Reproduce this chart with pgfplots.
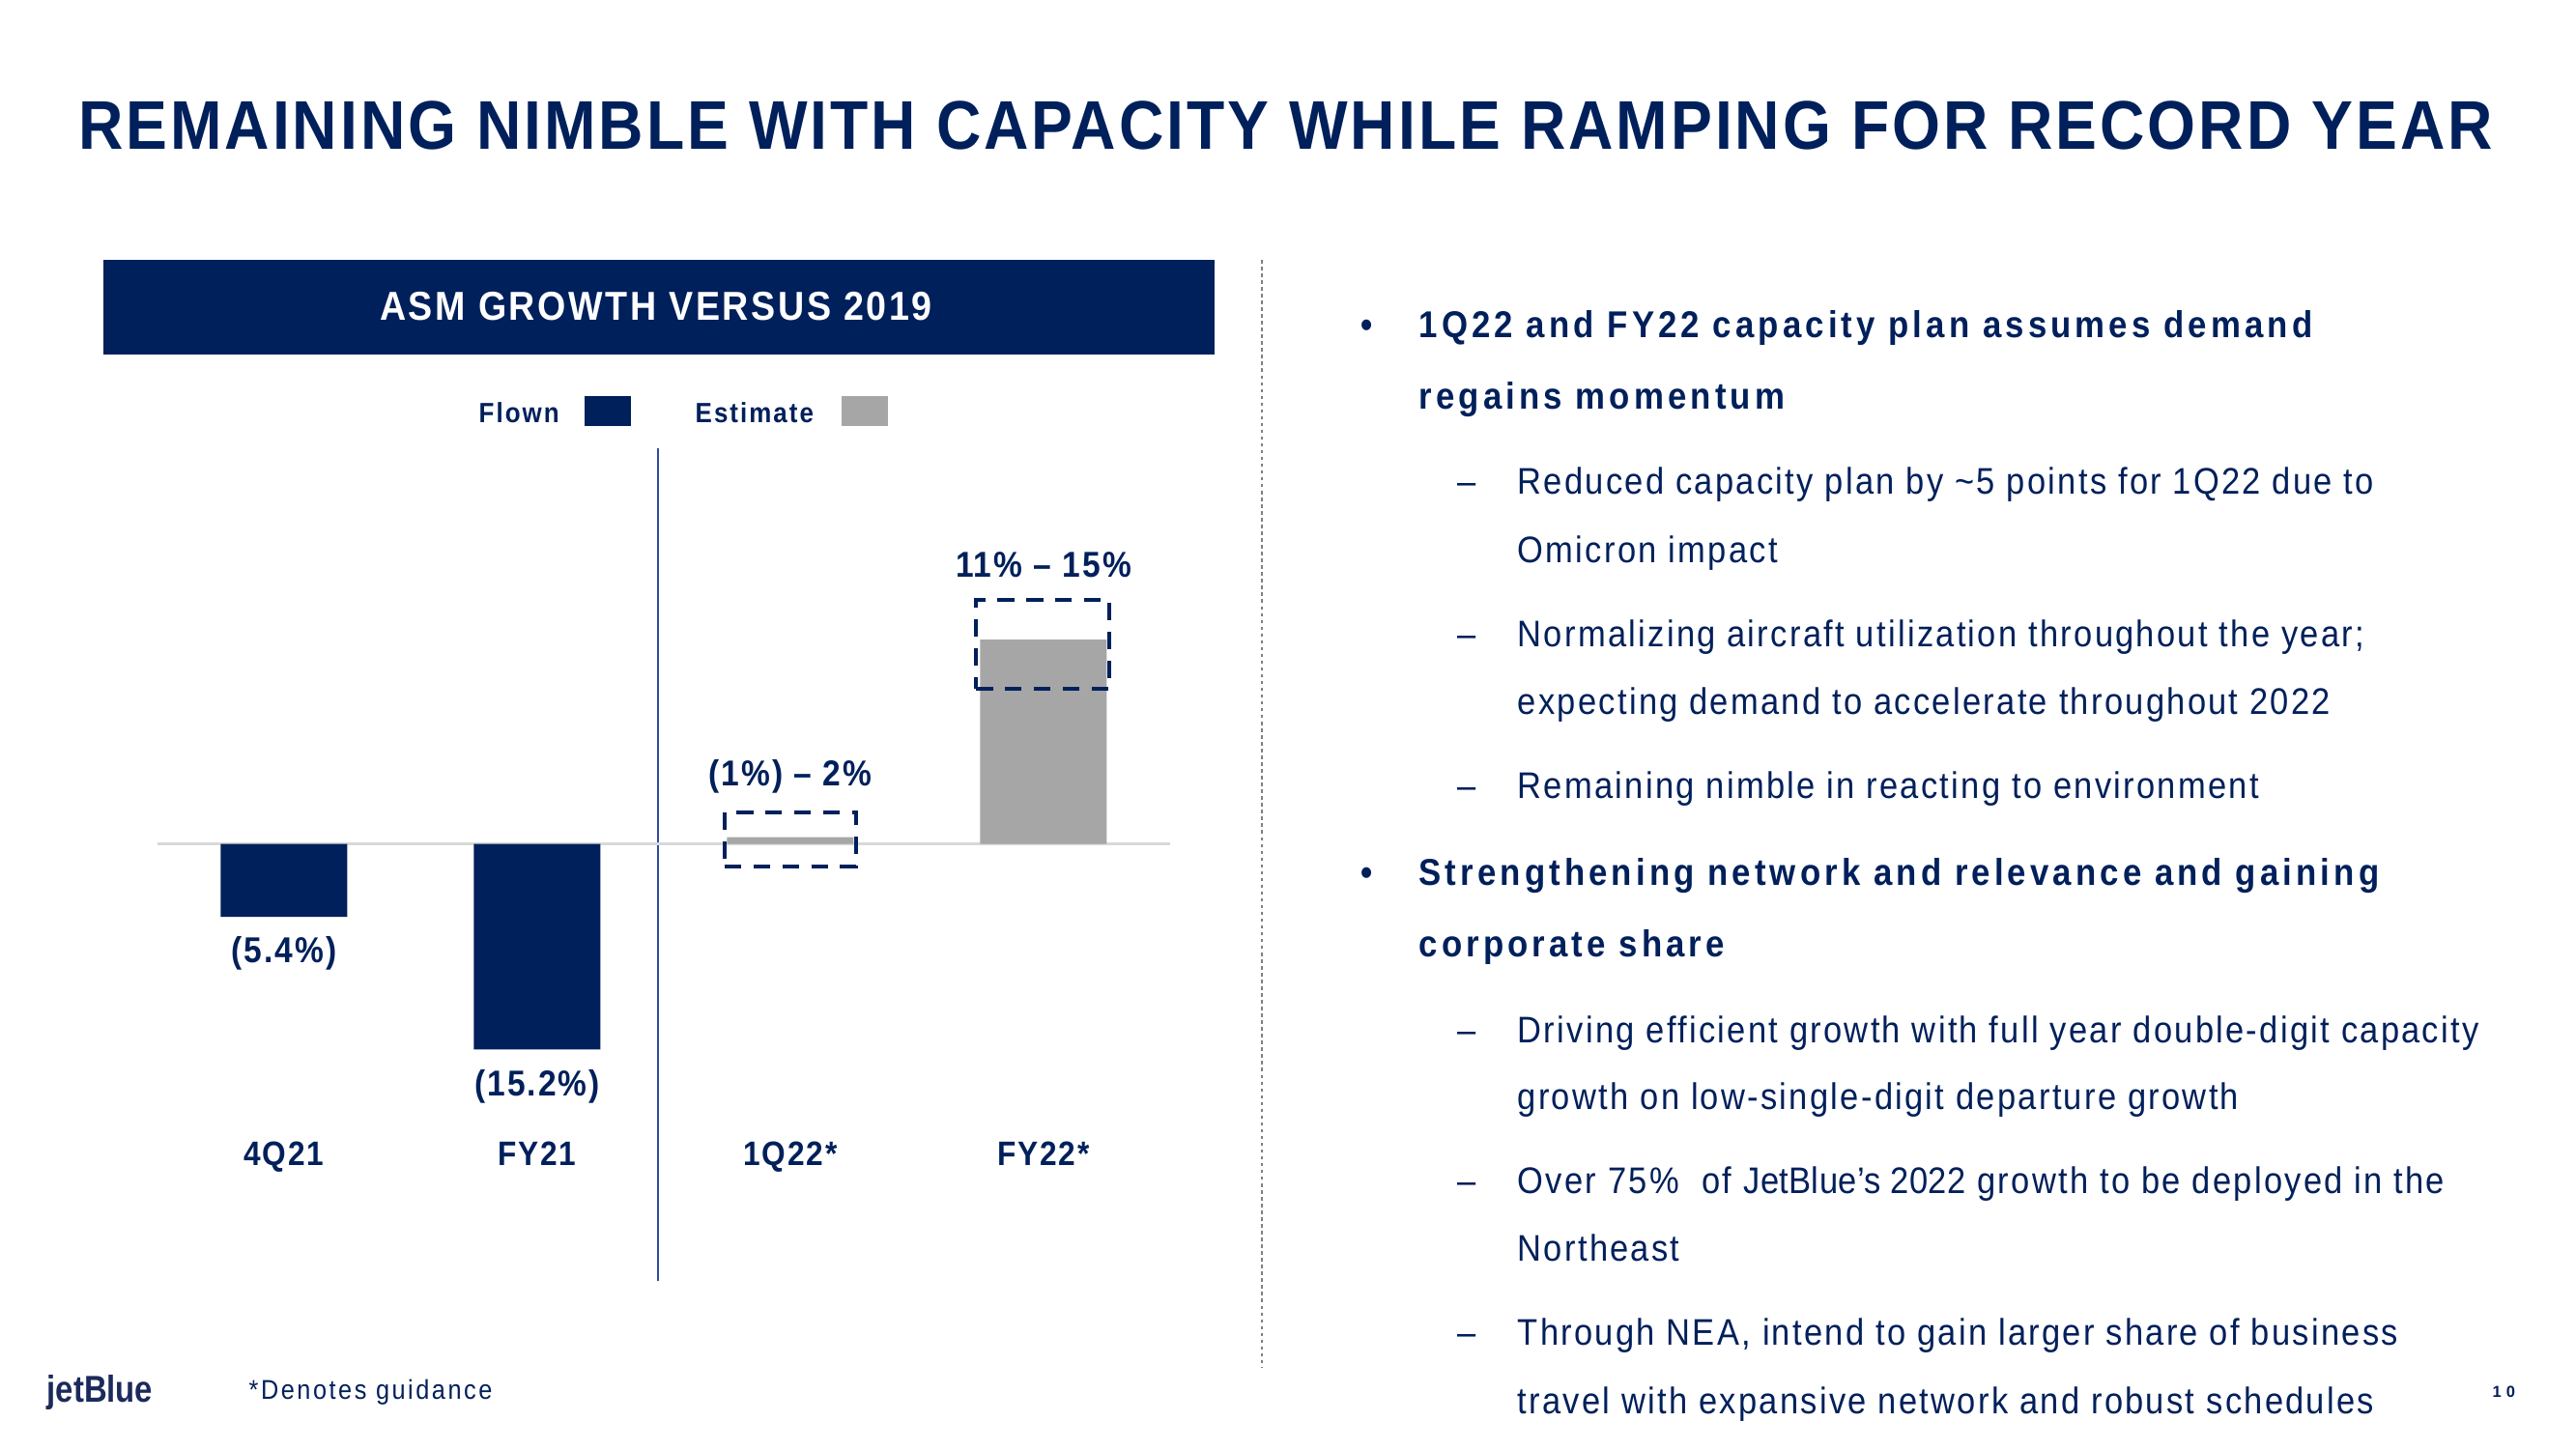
\documentclass[border=0pt]{standalone}
\usepackage{fontspec}
\setmainfont{Liberation Sans}[FakeStretch=0.9]
\newfontfamily\titlefont{Liberation Sans}[FakeStretch=0.9,LetterSpace=4.2]
\newfontfamily\bannerfont{Liberation Sans}[FakeStretch=0.9,LetterSpace=6.2]
\newfontfamily\valfont{Liberation Sans}[FakeStretch=0.9,LetterSpace=5.5]
\newfontfamily\catfont{Liberation Sans}[FakeStretch=0.9,LetterSpace=5]
\newfontfamily\legfont{Liberation Sans}[FakeStretch=0.9,LetterSpace=7]
\newfontfamily\bbodyfont{Liberation Sans}[FakeStretch=0.9,LetterSpace=10.6]
\newfontfamily\bodyfont{Liberation Sans}[FakeStretch=0.9,LetterSpace=6]
\newfontfamily\plainfont{Liberation Sans}[FakeStretch=0.9,LetterSpace=1]
\newfontfamily\notefont{Liberation Sans}[FakeStretch=0.9,LetterSpace=9]
\newfontfamily\pagefont{Liberation Sans}[LetterSpace=30]
\newfontfamily\logofont{Liberation Sans}[FakeStretch=0.85]
\usepackage{pgfplots}
\pgfplotsset{compat=1.18}
\definecolor{navy}{HTML}{00205B}
\definecolor{bargray}{HTML}{A6A6A6}
\definecolor{zerogray}{HTML}{D9D9D9}
\definecolor{sepblue}{HTML}{2F4C9E}
\definecolor{logonavy}{HTML}{1B2A5A}
\tikzset{
  bold/.style={anchor=base west, inner sep=0pt, text=navy, font=\bbodyfont\bfseries\fontsize{11}{13}\selectfont},
  sub/.style={anchor=base west, inner sep=0pt, text=navy, font=\bodyfont\fontsize{10.9}{13}\selectfont},
  val/.style={anchor=base, inner sep=0pt, text=navy, font=\valfont\bfseries\fontsize{10.6}{12}\selectfont},
  cat/.style={anchor=base, inner sep=0pt, text=navy, font=\catfont\bfseries\fontsize{10}{12}\selectfont},
}
\begin{document}
\begin{tikzpicture}
\path[use as bounding box, fill=white] (0,0) rectangle (26.66,-15);
% title
\node[anchor=base, inner sep=0pt, text=navy, font=\titlefont\bfseries\fontsize{20.3}{24}\selectfont] at (13.305,-1.54) {REMAINING NIMBLE WITH CAPACITY WHILE RAMPING FOR RECORD YEAR};
% banner
\fill[navy] (1.07,-2.69) rectangle (12.57,-3.67);
\node[anchor=base, inner sep=0pt, text=white, font=\bannerfont\bfseries\fontsize{11.9}{14}\selectfont] at (6.79,-3.31) {ASM GROWTH VERSUS 2019};
% legend
\node[anchor=base west, inner sep=0pt, text=navy, font=\legfont\bfseries\fontsize{8.2}{10}\selectfont] at (4.95,-4.37) {Flown};
\fill[navy] (6.05,-4.10) rectangle (6.53,-4.41);
\node[anchor=base west, inner sep=0pt, text=navy, font=\legfont\bfseries\fontsize{8.2}{10}\selectfont] at (7.19,-4.37) {Estimate};
\fill[bargray] (8.71,-4.10) rectangle (9.19,-4.41);
% separators
\draw[sepblue, line width=0.6pt] (6.81,-4.64) -- (6.81,-13.26);
\draw[gray, line width=0.4pt, dash pattern=on 1pt off 1pt] (13.06,-2.69) -- (13.06,-14.16);
% chart
\begin{axis}[at={(1.63cm,-12.235cm)}, anchor=south west, scale only axis,
  width=10.48cm, height=7cm, xmin=-0.5, xmax=3.5, ymin=-25, ymax=25,
  hide axis, clip=false]
\addplot[draw=zerogray, line width=1pt] coordinates {(-0.5,0) (3.5,0)};
\addplot[ybar, bar width=0.5, bar shift=0pt, fill=navy, draw=none] coordinates {(0,-5.4) (1,-15.2)};
\addplot[ybar, bar width=0.5, bar shift=0pt, fill=bargray, draw=none] coordinates {(2,0.5) (3,15.1)};
\addplot[navy, line width=1.15pt, dash pattern=on 5pt off 3.5pt] coordinates {(1.74,-1.68) (2.26,-1.68) (2.26,2.32) (1.74,2.32) (1.74,-1.68)};
\addplot[navy, line width=1.15pt, dash pattern=on 5pt off 3.5pt] coordinates {(2.733,11.46) (3.26,11.46) (3.26,18.04) (2.733,18.04) (2.733,11.46)};
\node[val] at (axis cs:0,-8.8) {(5.4\%)};
\node[val] at (axis cs:1,-18.66) {(15.2\%)};
\node[val] at (axis cs:2,4.29) {(1\%) – 2\%};
\node[val] at (axis cs:3,19.75) {11\% – 15\%};
\node[cat] at (axis cs:0,-23.8) {4Q21};
\node[cat] at (axis cs:1,-23.8) {FY21};
\node[cat] at (axis cs:2,-23.8) {1Q22*};
\node[cat] at (axis cs:3,-23.8) {FY22*};
\end{axis}
% right text
\node[bold] at (14.08,-3.496) {•};
\node[bold] at (14.68,-3.496) {1Q22 and FY22 capacity plan assumes demand};
\node[bold] at (14.68,-4.234) {regains momentum};
\node[sub] at (15.08,-5.114) {–};
\node[sub] at (15.70,-5.114) {Reduced capacity plan by \textasciitilde5 points for 1Q22 due to};
\node[sub] at (15.70,-5.82) {Omicron impact};
\node[sub] at (15.08,-6.69) {–};
\node[sub] at (15.70,-6.69) {Normalizing aircraft utilization throughout the year;};
\node[sub] at (15.70,-7.396) {expecting demand to accelerate throughout 2022};
\node[sub] at (15.08,-8.26) {–};
\node[sub] at (15.70,-8.26) {Remaining nimble in reacting to environment};
\node[bold] at (14.08,-9.16) {•};
\node[bold] at (14.68,-9.16) {Strengthening network and relevance and gaining};
\node[bold] at (14.68,-9.90) {corporate share};
\node[sub] at (15.08,-10.79) {–};
\node[sub] at (15.70,-10.79) {Driving efficient growth with full year double-digit capacity};
\node[sub] at (15.70,-11.48) {growth on low-single-digit departure growth};
\node[sub] at (15.08,-12.35) {–};
\node[sub] at (15.70,-12.35) {Over 75\%\ \ of {\plainfont JetBlue’s 2022} growth to be deployed in the};
\node[sub] at (15.70,-13.056) {Northeast};
\node[sub] at (15.08,-13.927) {–};
\node[sub] at (15.70,-13.927) {Through NEA, intend to gain larger share of business};
\node[sub] at (15.70,-14.63) {travel with expansive network and robust schedules};
% footer
\node[anchor=base west, inner sep=0pt, text=logonavy, font=\logofont\bfseries\fontsize{11}{13}\selectfont] at (0.48,-14.517) {jetBlue};
\node[anchor=base west, inner sep=0pt, text=navy, font=\notefont\fontsize{8}{10}\selectfont] at (2.57,-14.48) {*Denotes guidance};
\node[anchor=base west, inner sep=0pt, text=navy, font=\pagefont\bfseries\fontsize{4.7}{6}\selectfont] at (25.79,-14.467) {10};
\end{tikzpicture}
\end{document}
